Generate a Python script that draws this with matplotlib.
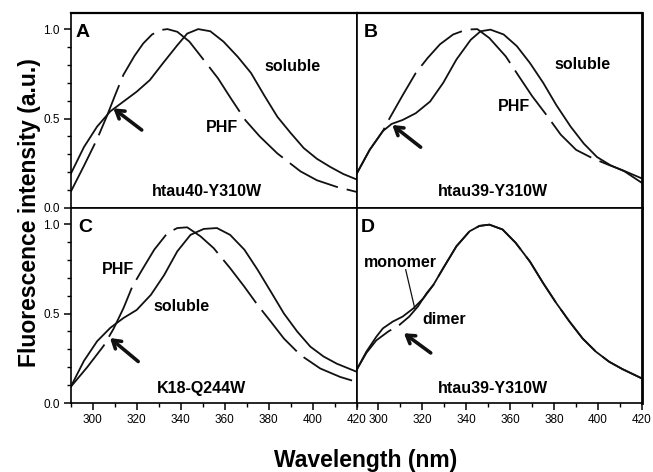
import numpy as np
import matplotlib
matplotlib.use("Agg")
import matplotlib.pyplot as plt
from matplotlib.ticker import MultipleLocator

plt.rcParams['font.family'] = ['Liberation Sans', 'DejaVu Sans']

# --- spectra (wavelength in nm, normalised intensity) ---
# A: htau40-Y310W
a_sol_wl = [290, 296, 302, 308, 314, 320, 326, 332, 338.5, 343, 348, 353.5, 359.5, 366, 372, 378, 384, 390, 396, 402, 408, 414, 420]
a_sol_int = [0.19, 0.34, 0.455, 0.54, 0.595, 0.65, 0.715, 0.81, 0.91, 0.975, 1.0, 0.988, 0.93, 0.845, 0.755, 0.63, 0.51, 0.42, 0.335, 0.275, 0.23, 0.19, 0.16]
a_phf_wl = [290, 296, 302, 306.5, 310.5, 314, 319, 323, 327, 331, 334, 338.5, 344, 351, 357, 363, 369.5, 376, 384, 394.5, 402, 411, 420]
a_phf_int = [0.09, 0.235, 0.385, 0.515, 0.64, 0.745, 0.85, 0.92, 0.97, 0.995, 1.0, 0.985, 0.93, 0.82, 0.725, 0.61, 0.49, 0.40, 0.305, 0.205, 0.155, 0.118, 0.09]

# B: htau39-Y310W
b_sol_wl = [290, 296, 302, 306, 311, 317, 323.5, 329.5, 335.5, 342, 346.5, 351, 357, 363, 369, 375, 381, 387.5, 393.5, 399.5, 405.5, 412, 420]
b_sol_int = [0.19, 0.325, 0.43, 0.47, 0.492, 0.53, 0.595, 0.70, 0.83, 0.94, 0.988, 0.997, 0.97, 0.905, 0.81, 0.70, 0.575, 0.455, 0.36, 0.285, 0.24, 0.205, 0.14]
b_phf_wl = [290, 296, 302, 305, 311, 317, 322.5, 328, 334, 340, 345, 350.5, 358, 364, 370, 376.5, 383, 390, 397.5, 405, 411, 420]
b_phf_int = [0.19, 0.325, 0.43, 0.50, 0.63, 0.755, 0.84, 0.915, 0.97, 0.997, 1.0, 0.95, 0.847, 0.735, 0.625, 0.52, 0.41, 0.325, 0.278, 0.24, 0.212, 0.165]

# C: K18-Q244W
c_sol_wl = [290, 296, 302, 308, 314, 320, 326.5, 332.5, 338.5, 344.5, 350.5, 356.5, 362.5, 369, 375, 381, 387, 393, 399, 405, 411, 420]
c_sol_int = [0.09, 0.235, 0.345, 0.42, 0.475, 0.52, 0.605, 0.715, 0.848, 0.94, 0.973, 0.978, 0.94, 0.857, 0.745, 0.623, 0.50, 0.40, 0.315, 0.26, 0.22, 0.175]
c_phf_wl = [290, 297.5, 305, 309.5, 314, 318, 322.5, 328, 334, 338.5, 343, 349, 355, 362.5, 369, 375, 381, 387, 394.5, 403.5, 412.5, 420]
c_phf_int = [0.09, 0.20, 0.32, 0.415, 0.53, 0.65, 0.745, 0.857, 0.95, 0.978, 0.982, 0.932, 0.866, 0.754, 0.65, 0.548, 0.455, 0.36, 0.268, 0.193, 0.146, 0.118]

# D: htau39-Y310W monomer vs dimer
d_mon_wl = [290, 294.5, 299, 302, 306.5, 311, 316, 320.5, 325, 329.5, 335.5, 341.5, 346, 350.5, 356.5, 362.5, 369, 375, 381, 387, 393, 399, 405, 411, 420]
d_mon_int = [0.184, 0.287, 0.37, 0.417, 0.455, 0.483, 0.53, 0.586, 0.66, 0.754, 0.876, 0.96, 0.99, 0.997, 0.97, 0.895, 0.79, 0.67, 0.558, 0.455, 0.36, 0.287, 0.231, 0.19, 0.137]
d_dim_wl = [290, 294.5, 299, 304.5, 309.5, 314, 318, 322, 325, 329.5, 335.5, 341.5, 346, 350.5, 356.5, 362.5, 369, 375, 381, 387, 393, 399, 405, 411, 420]
d_dim_int = [0.184, 0.28, 0.35, 0.40, 0.436, 0.483, 0.54, 0.615, 0.66, 0.754, 0.876, 0.96, 0.99, 0.997, 0.97, 0.895, 0.79, 0.67, 0.558, 0.455, 0.36, 0.287, 0.231, 0.19, 0.137]

fig = plt.figure(figsize=(6.53, 4.72), dpi=100)

left, mid, right = 70.7 / 653, 356.5 / 653, 642 / 653
top_bot, bot_bot, h = 1 - 208 / 472, 1 - 403 / 472, 195 / 472
axA = fig.add_axes([left, top_bot, mid - left, h])
axB = fig.add_axes([mid, top_bot, right - mid, h])
axC = fig.add_axes([left, bot_bot, mid - left, h])
axD = fig.add_axes([mid, bot_bot, right - mid, h])

dash = (0, (30, 5))
lw = 1.3
col = '#111111'

axA.plot(a_sol_wl, a_sol_int, color=col, lw=lw)
axA.plot(a_phf_wl, a_phf_int, color=col, lw=lw, ls=dash)
axB.plot(b_sol_wl, b_sol_int, color=col, lw=lw)
axB.plot(b_phf_wl, b_phf_int, color=col, lw=lw, ls=dash)
axC.plot(c_sol_wl, c_sol_int, color=col, lw=lw)
axC.plot(c_phf_wl, c_phf_int, color=col, lw=lw, ls=dash)
axD.plot(d_mon_wl, d_mon_int, color=col, lw=lw)
axD.plot(d_dim_wl, d_dim_int, color=col, lw=lw, ls=dash)

for ax in (axA, axB, axC, axD):
    ax.set_xlim(290, 420)
    ax.set_ylim(0, 1.09)
    ax.xaxis.set_major_locator(MultipleLocator(20))
    ax.xaxis.set_minor_locator(MultipleLocator(10))
    ax.set_xticks(np.arange(300, 421, 20))
    ax.yaxis.set_major_locator(MultipleLocator(0.5))
    ax.yaxis.set_minor_locator(MultipleLocator(0.1))
    ax.yaxis.set_major_formatter(plt.FormatStrFormatter('%.1f'))
    ax.tick_params(which='major', direction='out', length=5, width=1.1, labelsize=8.5, pad=3)
    ax.tick_params(which='minor', direction='out', length=3, width=1.0)
    for s in ax.spines.values():
        s.set_linewidth(1.2)

for ax in (axA, axB):
    ax.tick_params(which='both', bottom=False, labelbottom=False)
for ax in (axB, axD):
    ax.tick_params(which='both', left=False, labelleft=False)
    ax.spines['right'].set_linewidth(2.0)
axA.spines['top'].set_linewidth(1.6)
axB.spines['top'].set_linewidth(1.6)

bold = dict(fontsize=11.5, fontweight='bold')
letter = dict(fontsize=14, fontweight='bold', va='center', ha='center')
arrow = dict(arrowstyle='->, head_length=0.55, head_width=0.35', lw=2.6, color=col, shrinkA=0, shrinkB=0)

axA.text(295.6, 0.98, 'A', **letter)
axA.text(378, 0.79, 'soluble', va='center', **bold)
axA.text(358.6, 0.45, 'PHF', ha='center', va='center', **bold)
axA.text(351.8, 0.09, 'htau40-Y310W', ha='center', va='center', **bold)
axA.annotate('', xy=(309.4, 0.557), xytext=(322.3, 0.436), arrowprops=arrow)

axB.text(296.4, 0.98, 'B', **letter)
axB.text(380, 0.80, 'soluble', va='center', **bold)
axB.text(361.8, 0.566, 'PHF', ha='center', va='center', **bold)
axB.text(352, 0.09, 'htau39-Y310W', ha='center', va='center', **bold)
axB.annotate('', xy=(306.3, 0.464), xytext=(319.2, 0.34), arrowprops=arrow)

axC.text(296.5, 0.98, 'C', **letter)
axC.text(311.6, 0.747, 'PHF', ha='center', va='center', **bold)
axC.text(340.5, 0.54, 'soluble', ha='center', va='center', **bold)
axC.text(349.5, 0.08, 'K18-Q244W', ha='center', va='center', **bold)
axC.annotate('', xy=(307.9, 0.363), xytext=(320.7, 0.232), arrowprops=arrow)

axD.text(294.9, 0.98, 'D', **letter)
axD.text(310, 0.785, 'monomer', ha='center', va='center', **bold)
axD.plot([312.4, 316.5], [0.745, 0.53], color=col, lw=0.9)
axD.text(329.9, 0.466, 'dimer', ha='center', va='center', **bold)
axD.text(352, 0.083, 'htau39-Y310W', ha='center', va='center', **bold)
axD.annotate('', xy=(311.6, 0.39), xytext=(323.8, 0.28), arrowprops=arrow)

fig.text(30 / 653, 1 - 213 / 472, 'Fluorescence intensity (a.u.)', rotation=90,
         ha='center', va='center', fontsize=16.5, fontweight='bold')
fig.text(366 / 653, 1 - 461 / 472, 'Wavelength (nm)', ha='center', va='center',
         fontsize=16.5, fontweight='bold')

fig.savefig('out.png', dpi=100)
